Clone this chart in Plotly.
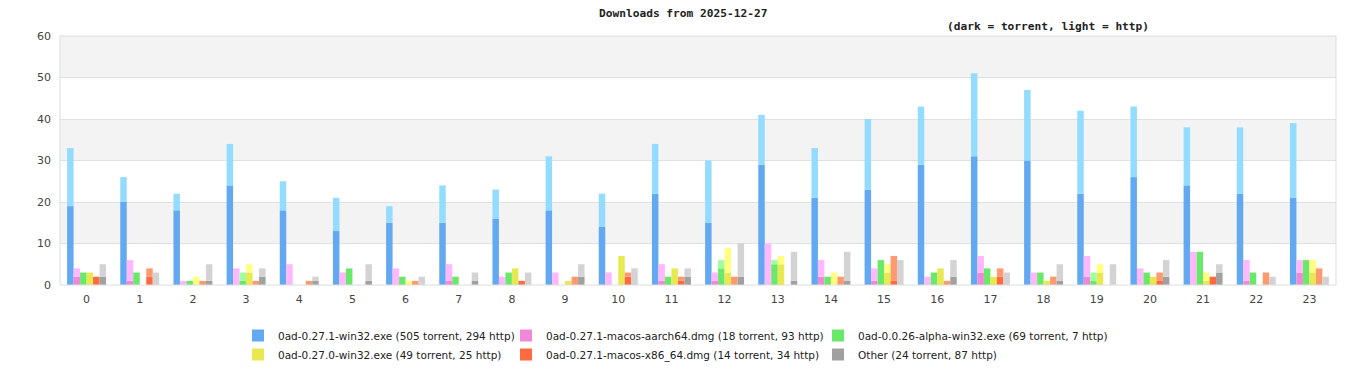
import plotly.graph_objects as go

hours = list(range(24))

names = [
    "0ad-0.27.1-win32.exe (505 torrent, 294 http)",
    "0ad-0.27.1-macos-aarch64.dmg (18 torrent, 93 http)",
    "0ad-0.0.26-alpha-win32.exe (69 torrent, 7 http)",
    "0ad-0.27.0-win32.exe (49 torrent, 25 http)",
    "0ad-0.27.1-macos-x86_64.dmg (14 torrent, 34 http)",
    "Other (24 torrent, 87 http)",
]

blue_t = [19, 20, 18, 24, 18, 13, 15, 15, 16, 18, 14, 22, 15, 29, 21, 23, 29, 31, 30, 22, 26, 24, 22, 21]
blue_h = [14, 6, 4, 10, 7, 8, 4, 9, 7, 13, 8, 12, 15, 12, 12, 17, 14, 20, 17, 20, 17, 14, 16, 18]
pink_t = [2, 1, 0, 0, 0, 0, 0, 1, 0, 0, 0, 1, 1, 0, 2, 1, 0, 3, 0, 2, 0, 0, 1, 3]
pink_h = [2, 5, 1, 4, 5, 3, 4, 4, 2, 3, 3, 4, 2, 10, 4, 3, 2, 4, 3, 5, 4, 8, 5, 3]
green_t = [3, 3, 1, 1, 0, 4, 2, 2, 3, 0, 0, 2, 4, 5, 2, 6, 3, 4, 3, 1, 3, 8, 3, 6]
green_h = [0, 0, 0, 2, 0, 0, 0, 0, 0, 0, 0, 0, 2, 1, 0, 0, 0, 0, 0, 2, 0, 0, 0, 0]
yellow_t = [3, 0, 0, 3, 0, 0, 0, 0, 4, 1, 7, 4, 3, 5, 0, 3, 4, 2, 1, 3, 2, 1, 0, 3]
yellow_h = [0, 0, 2, 2, 0, 0, 1, 0, 0, 0, 0, 0, 6, 2, 3, 2, 0, 0, 0, 2, 0, 2, 0, 3]
orange_t = [2, 2, 0, 0, 0, 0, 0, 0, 1, 0, 2, 1, 0, 0, 0, 1, 0, 2, 0, 0, 1, 2, 0, 0]
orange_h = [0, 2, 1, 1, 1, 0, 1, 0, 0, 2, 1, 1, 2, 0, 2, 6, 1, 2, 2, 0, 2, 0, 3, 4]
gray_t = [2, 0, 1, 2, 1, 1, 0, 1, 0, 2, 0, 2, 2, 1, 1, 0, 2, 0, 1, 0, 2, 3, 0, 0]
gray_h = [3, 3, 4, 2, 1, 4, 2, 2, 3, 3, 4, 2, 8, 7, 7, 6, 4, 3, 4, 5, 4, 2, 2, 2]

torrent = [blue_t, pink_t, green_t, yellow_t, orange_t, gray_t]
http = [blue_h, pink_h, green_h, yellow_h, orange_h, gray_h]

dark = ["#62a9f2", "#f088d8", "#6ae86a", "#e8e850", "#ff6a40", "#a0a0a0"]
light = ["#94dcff", "#ffb8ff", "#a0ffa0", "#ffff80", "#ff9a70", "#d3d3d3"]

# legend column for each series (3 columns, 2 rows)
legend_ids = ["legend", "legend2", "legend3", "legend", "legend2", "legend3"]

fig = go.Figure()
for i in range(6):
    fig.add_trace(go.Bar(
        x=hours, y=torrent[i], name=names[i], offsetgroup=str(i),
        legend=legend_ids[i],
        marker=dict(color=dark[i], line=dict(width=0)),
    ))
    fig.add_trace(go.Bar(
        x=hours, y=http[i], base=torrent[i], name=names[i] + " http",
        offsetgroup=str(i), legend=legend_ids[i], showlegend=False,
        marker=dict(color=light[i], line=dict(width=0)),
    ))

shapes = []
for lo in (10, 30, 50):
    shapes.append(dict(type="rect", xref="paper", yref="y", x0=0, x1=1, y0=lo, y1=lo + 10,
                       fillcolor="#f3f3f3", line=dict(width=0), layer="below"))
shapes.append(dict(type="rect", xref="paper", yref="paper", x0=0, x1=1, y0=0, y1=1,
                   fillcolor="rgba(0,0,0,0)", line=dict(color="#dcdcdc", width=1), layer="above"))

legend_common = dict(orientation="v", xanchor="left", yanchor="top", y=-0.1446,
                     traceorder="normal", tracegroupgap=0,
                     font=dict(family="DejaVu Sans", size=10.5, color="#222222"),
                     itemclick=False, bgcolor="rgba(0,0,0,0)")

def px_to_paper(px):
    return (px - 60) / 1276

fig.update_layout(
    width=1366, height=380,
    margin=dict(l=60, r=30, t=36, b=95, autoexpand=False),
    paper_bgcolor="white", plot_bgcolor="white",
    barmode="group", bargap=0.267, bargroupgap=0,
    shapes=shapes,
    font=dict(family="DejaVu Sans", size=11, color="#444444"),
    xaxis=dict(range=[-0.5, 23.5], tickmode="array", tickvals=hours,
               ticktext=[str(h) for h in hours], showgrid=False, zeroline=False,
               showline=False, ticks="", ticklabelstandoff=6,
               tickfont=dict(size=11, color="#444444")),
    yaxis=dict(range=[0, 60], dtick=10, showgrid=True, gridcolor="#e0e0e0", gridwidth=1,
               zeroline=False, showline=False, ticks="", ticklabelstandoff=8,
               tickfont=dict(size=11, color="#444444")),
    legend=dict(x=px_to_paper(238), **legend_common),
    legend2=dict(x=px_to_paper(506), **legend_common),
    legend3=dict(x=px_to_paper(818), **legend_common),
    annotations=[
        dict(text="<b>Downloads from 2025-12-27</b>", xref="paper", yref="paper",
             x=px_to_paper(683), y=1, yshift=23, xanchor="center", yanchor="middle",
             showarrow=False, font=dict(family="DejaVu Sans Mono", size=11.2, color="#222222")),
        dict(text="<b>(dark = torrent, light = http)</b>", xref="paper", yref="paper",
             x=px_to_paper(1047.5), y=1, yshift=10, xanchor="center", yanchor="middle",
             showarrow=False, font=dict(family="DejaVu Sans Mono", size=11.2, color="#222222")),
    ],
    showlegend=True,
)

fig.write_html("out.html", config={"displayModeBar": False},
               post_script="document.body.style.margin='0';")
